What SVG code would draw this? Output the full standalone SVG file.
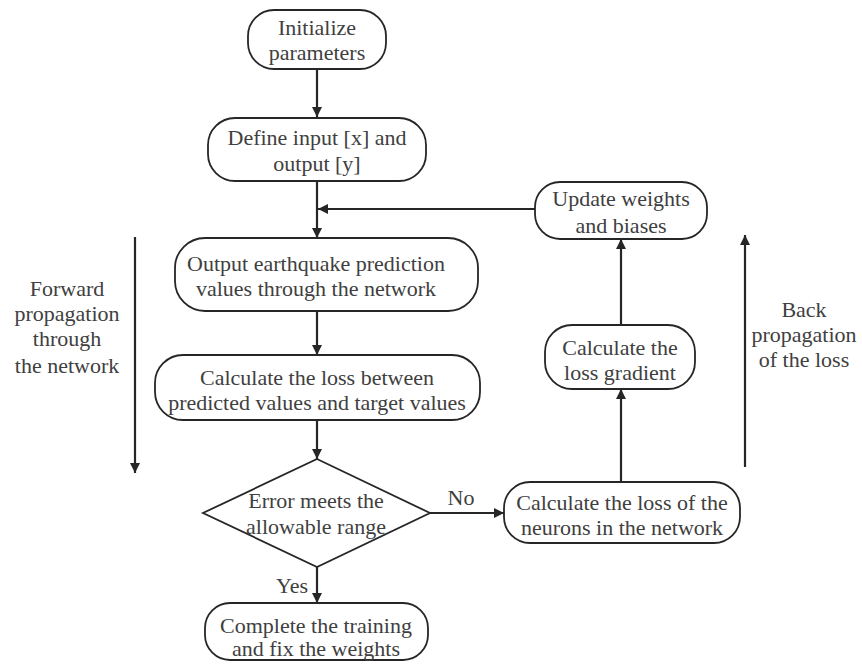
<svg xmlns="http://www.w3.org/2000/svg" width="862" height="668" viewBox="0 0 862 668">
  <defs>
    <marker id="arrow" viewBox="0 0 10 10" refX="10" refY="5" markerWidth="10" markerHeight="10" markerUnits="userSpaceOnUse" orient="auto">
      <path d="M0,0 L10,5 L0,10 z" fill="#262626"/>
    </marker>
    <style>
      .box { fill: #ffffff; stroke: #262626; stroke-width: 1.8; }
      .lbl { font-family: "Liberation Serif", "Times New Roman", serif; font-size: 22px; fill: #404040; text-anchor: middle; }
      .edge { fill: none; stroke: #262626; stroke-width: 2.2; }
      .arr { marker-end: url(#arrow); }
    </style>
  </defs>
  <rect width="862" height="668" fill="#ffffff"/>

  <!-- connectors -->
  <g id="connectors">
    <line class="edge arr" x1="317" y1="69" x2="317" y2="117"/>
    <line class="edge arr" x1="317" y1="181" x2="317" y2="238"/>
    <line class="edge arr" x1="535" y1="209" x2="318" y2="209"/>
    <line class="edge arr" x1="317" y1="311" x2="317" y2="355"/>
    <line class="edge arr" x1="317" y1="420" x2="317" y2="459"/>
    <line class="edge arr" x1="317" y1="567" x2="317" y2="603"/>
    <line class="edge arr" x1="430" y1="513" x2="504" y2="513"/>
    <line class="edge arr" x1="621" y1="482" x2="621" y2="389"/>
    <line class="edge arr" x1="621" y1="325" x2="621" y2="239"/>
    <line class="edge arr" x1="135" y1="237" x2="135" y2="473"/>
    <line class="edge arr" x1="745" y1="467" x2="745" y2="235"/>
    <text class="lbl" x="461" y="505">No</text>
    <text class="lbl" x="292" y="593">Yes</text>
  </g>

  <!-- side annotations -->
  <g id="forward-label">
    <text class="lbl" x="67" y="296">Forward</text>
    <text class="lbl" x="67" y="321">propagation</text>
    <text class="lbl" x="67" y="346">through</text>
    <text class="lbl" x="67" y="373">the network</text>
  </g>
  <g id="back-label">
    <text class="lbl" x="804" y="317">Back</text>
    <text class="lbl" x="804" y="342">propagation</text>
    <text class="lbl" x="804" y="367">of the loss</text>
  </g>

  <!-- nodes -->
  <g id="init">
    <rect class="box" x="248" y="10" width="138" height="59" rx="26"/>
    <text class="lbl" x="317" y="35">Initialize</text>
    <text class="lbl" x="317" y="60">parameters</text>
  </g>
  <g id="define-io">
    <rect class="box" x="208" y="118" width="218" height="63" rx="27"/>
    <text class="lbl" x="317" y="145">Define input [x] and</text>
    <text class="lbl" x="317" y="171">output [y]</text>
  </g>
  <g id="forward-output">
    <rect class="box" x="175" y="238" width="303" height="73" rx="30"/>
    <text class="lbl" x="316" y="271">Output earthquake prediction</text>
    <text class="lbl" x="316" y="296">values through the network</text>
  </g>
  <g id="loss">
    <rect class="box" x="155" y="355" width="325" height="65" rx="28"/>
    <text class="lbl" x="317" y="385">Calculate the loss between</text>
    <text class="lbl" x="317" y="410">predicted values and target values</text>
  </g>
  <g id="check-error">
    <polygon class="box" points="317,459 430,513 317,567 203,513"/>
    <text class="lbl" x="316" y="508">Error meets the</text>
    <text class="lbl" x="316" y="534">allowable range</text>
  </g>
  <g id="complete">
    <rect class="box" x="205" y="603" width="223" height="57" rx="25"/>
    <text class="lbl" x="316" y="633">Complete the training</text>
    <text class="lbl" x="316" y="656">and fix the weights</text>
  </g>
  <g id="neuron-loss">
    <rect class="box" x="504" y="482" width="236" height="61" rx="26"/>
    <text class="lbl" x="622" y="510">Calculate the loss of the</text>
    <text class="lbl" x="622" y="535">neurons in the network</text>
  </g>
  <g id="gradient">
    <rect class="box" x="545" y="325" width="150" height="64" rx="27"/>
    <text class="lbl" x="620" y="355">Calculate the</text>
    <text class="lbl" x="620" y="380">loss gradient</text>
  </g>
  <g id="update">
    <rect class="box" x="535" y="182" width="172" height="57" rx="25"/>
    <text class="lbl" x="621" y="206">Update weights</text>
    <text class="lbl" x="621" y="233">and biases</text>
  </g>
</svg>
